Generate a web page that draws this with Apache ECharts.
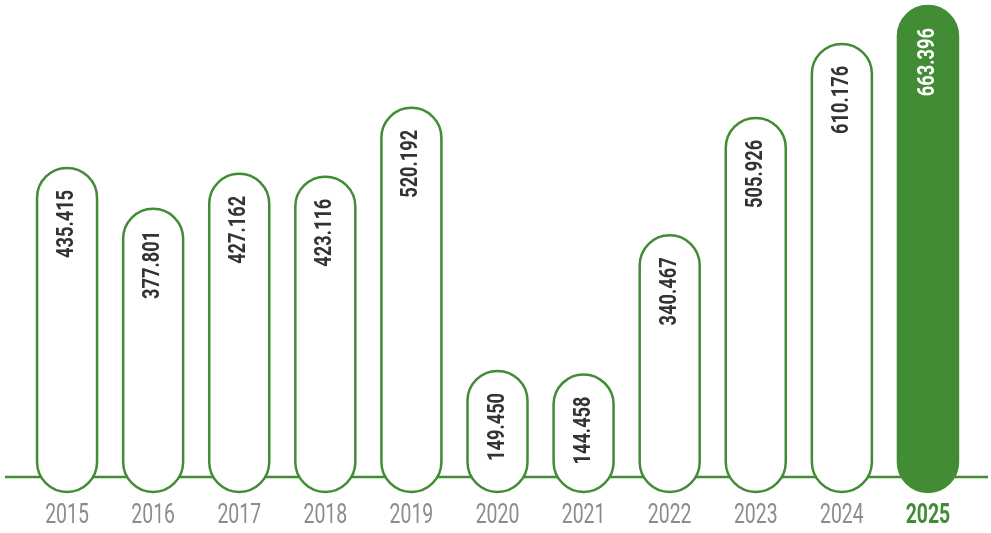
<!DOCTYPE html>
<html>
<head>
<meta charset="utf-8">
<script src="https://cdn.jsdelivr.net/npm/echarts@6/dist/echarts.min.js"></script>
<style>
html,body{margin:0;padding:0;background:#fff;}
#chart{width:991px;height:533px;}
</style>
</head>
<body>
<div id="chart"></div>
<script>
var years = ['2015','2016','2017','2018','2019','2020','2021','2022','2023','2024','2025'];
var values = [435.415, 377.801, 427.162, 423.116, 520.192, 149.450, 144.458, 340.467, 505.926, 610.176, 663.396];
var labels = ['435.415','377.801','427.162','423.116','520.192','149.450','144.458','340.467','505.926','610.176','663.396'];

var green = '#418c35';
var font = 'Roboto, sans-serif';
var last = years.length - 1;

var myChart = echarts.init(document.getElementById('chart'));
myChart.setOption({
	animation: false,
	grid: { left: 24, right: 20, top: 0, bottom: 56 },
	xAxis: {
		type: 'category',
		data: years,
		axisLine: { show: false },
		axisTick: { show: false },
		axisLabel: { show: false }
	},
	yAxis: { type: 'value', min: 0, max: 672, show: false, splitLine: { show: false } },
	graphic: [{
		type: 'line', z: 0,
		shape: { x1: 5, y1: 477, x2: 988, y2: 477 },
		style: { stroke: green, lineWidth: 2.5 }
	}],
	series: [{
		type: 'custom',
		z: 5,
		data: values.map(function (v, i) { return [i, v]; }),
		encode: { x: 0, y: 1 },
		renderItem: function (params, api) {
			var i = params.dataIndex;
			var top = api.coord([api.value(0), api.value(1)]);
			var base = api.coord([api.value(0), 0]);
			var w = 60;
			var bottom = base[1] + 15;
			var filled = i === last;
			return {
				type: 'group',
				children: [{
					type: 'rect',
					shape: { x: top[0] - w / 2, y: top[1], width: w, height: bottom - top[1], r: w / 2 },
					style: { fill: filled ? green : '#fff', stroke: green, lineWidth: 2.5 }
				}, {
					// valeur, verticale dans la pilule
					type: 'text',
					x: top[0],
					y: top[1] + 22,
					rotation: Math.PI / 2,
					scaleX: 0.76,
					style: {
						text: labels[i],
						align: 'right',
						verticalAlign: 'middle',
						fontFamily: font,
						fontWeight: 'bold',
						fontSize: 24,
						fill: filled ? '#fff' : '#333'
					}
				}, {
					// annee sous l'axe
					type: 'text',
					x: base[0],
					y: base[1] + 39,
					scaleX: 0.72,
					style: {
						text: years[i],
						align: 'center',
						verticalAlign: 'middle',
						fontFamily: font,
						fontWeight: filled ? 'bold' : 'normal',
						fontSize: 27,
						fill: filled ? green : '#8c8c8c'
					}
				}]
			};
		}
	}]
});
</script>
</body>
</html>
